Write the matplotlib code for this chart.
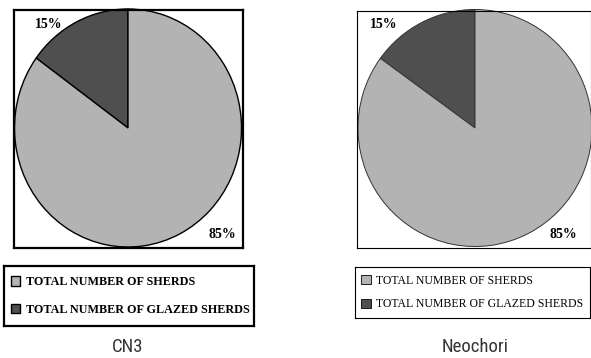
import matplotlib.pyplot as plt
from matplotlib import font_manager

W, H = 591, 358

series_labels = ['TOTAL NUMBER OF SHERDS', 'TOTAL NUMBER OF GLAZED SHERDS']
series_colors = ['#b3b3b3', '#4f4f4f']
sites = ['CN3', 'Neochori']
# percent share: [total sherds, glazed sherds]
cn3_values = [85, 15]
neochori_values = [85, 15]

installed = {f.name for f in font_manager.fontManager.ttflist}
caption_family = [f for f in ['Roboto Condensed', 'Liberation Sans Narrow',
                              'Roboto', 'DejaVu Sans'] if f in installed]


def px_box(x0, y0, x1, y1):
    # pixel box (top-left origin) -> figure fraction rect
    return [x0 / W, 1 - y1 / H, (x1 - x0) / W, (y1 - y0) / H]


def draw_panel(fig, values, pie_box, center, radius, legend_box, caption,
               label_pos, bold, frame_lw, pie_edge, pie_lw):
    ax = fig.add_axes(px_box(*pie_box))
    # glazed wedge first so it sits just left of 12 o'clock
    wedges, _ = ax.pie([values[1], values[0]],
                       colors=[series_colors[1], series_colors[0]],
                       startangle=90, frame=True,
                       wedgeprops=dict(edgecolor=pie_edge, linewidth=pie_lw))
    ax.set_aspect('auto')
    x0, y0, x1, y1 = pie_box
    cx, cy = center
    rx, ry = radius
    ax.set_xlim(-(cx - x0) / rx, (x1 - cx) / rx)
    ax.set_ylim(-(y1 - cy) / ry, (cy - y0) / ry)
    ax.set_xticks([])
    ax.set_yticks([])
    for sp in ax.spines.values():
        sp.set_linewidth(frame_lw)
        sp.set_color('black')

    for val, (px, py) in zip([values[1], values[0]], label_pos):
        fig.text(px / W, 1 - py / H, f'{val}%', ha='center', va='center',
                 fontsize=10, fontweight='bold', family='Liberation Serif')

    lax = fig.add_axes(px_box(*legend_box))
    lax.set_xticks([])
    lax.set_yticks([])
    for sp in lax.spines.values():
        sp.set_linewidth(frame_lw)
        sp.set_color('black')
    leg = lax.legend([wedges[1], wedges[0]], series_labels,
                     loc='center left', frameon=False, borderaxespad=0.15,
                     handlelength=0.8, handleheight=0.8, handletextpad=0.45,
                     labelspacing=1.3 if bold else 1.0,
                     prop=dict(family='Liberation Serif',
                               size=8.7 if bold else 8.5,
                               weight='bold' if bold else 'normal'))
    for h in leg.legend_handles:
        h.set_edgecolor('black')
        h.set_linewidth(1.0 if bold else 0.6)

    fig.text(center[0] / W, 1 - 347 / H, caption, ha='center', va='center',
             fontsize=13.5, color='#333333', family=caption_family)


fig = plt.figure(figsize=(W / 100, H / 100), dpi=100)
fig.patch.set_facecolor('white')

draw_panel(fig, cn3_values, (14, 10, 243, 248), (128, 128), (113.5, 119),
           (4, 266, 254, 326), sites[0], [(49, 24), (222, 234)],
           True, 1.6, 'black', 1.0)
draw_panel(fig, neochori_values, (357, 11, 590.5, 248), (475, 128),
           (117, 118.5), (355, 267, 590, 318), sites[1],
           [(384, 24), (563, 234)], False, 0.8, '#333333', 0.7)

fig.savefig('out.png', dpi=100, facecolor='white')
